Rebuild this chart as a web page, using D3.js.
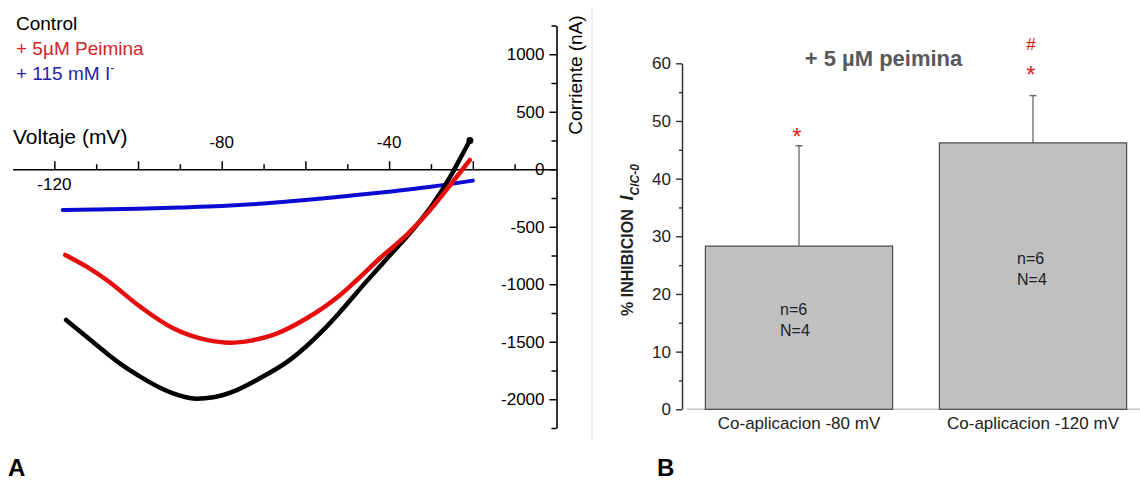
<!DOCTYPE html>
<html>
<head>
<meta charset="utf-8">
<script src="https://cdnjs.cloudflare.com/ajax/libs/d3/7.8.5/d3.min.js"></script>
<style>
  body { margin: 0; background: #fff; }
  text { font-family: "Liberation Sans", Arial, sans-serif; }
</style>
</head>
<body>
<div id="chart"></div>
<script>
//// data, panel A (I-V curves)
var controlV = [-117.2, -112.3, -107.5, -103.5, -99.5, -95, -90, -86, -82, -77, -71.6, -63.7, -55.7, -51.7, -45.4, -39.8, -34.2, -29.4, -25, -22.7, -20.7];
var controlI = [-1310, -1457, -1600, -1710, -1803, -1895, -1968, -1995, -1983, -1930, -1832, -1658, -1397, -1240, -975, -748, -520, -296, -40, 115, 250];

var peiminaV = [-117.4, -112.3, -107.5, -99.5, -91.6, -83.6, -78, -73, -67.7, -59.7, -51.7, -47.7, -42.2, -35.8, -30.2, -25.4, -20.7];
var peiminaI = [-745, -847, -963, -1195, -1383, -1484, -1508, -1490, -1441, -1296, -1093, -963, -774, -571, -354, -137, 81];

var iodideV = [-118, -110, -100, -90, -80, -70, -60, -50, -40, -30, -20];
var iodideI = [-354, -350, -343, -332, -319, -298, -268, -232, -195, -152, -99];

var voltLabels = [-120, -80, -40];
var legendNames = ["Control", "+ 5µM Peimina", "+ 115 mM I"];

//// data, panel B (bars)
var barLabels = ["Co-aplicacion -80 mV", "Co-aplicacion -120 mV"];
var barMeans = [28.3, 46.2];
var barErrors = [17.4, 8.2];
var barSmallN = ["n=6", "n=6"];
var barBigN = ["N=4", "N=4"];
var barHash = [false, true];

var svg = d3.select("#chart")
  .append("svg")
    .attr("width", 1140)
    .attr("height", 481);

svg.append("rect").attr("width", 1140).attr("height", 481).attr("fill", "#fff");

//// ---------- panel A ----------
var xV = d3.scaleLinear().domain([-130, 0]).range([12.5, 556.5]);
var yI = d3.scaleLinear().domain([-2250, 1250]).range([428, 25.5]);

// faint frame line on the right of panel A
svg.append("line")
  .attr("x1", 592).attr("x2", 592).attr("y1", 8).attr("y2", 440)
  .attr("stroke", "#ececec").attr("stroke-width", 1.5);

// x axis (voltage), ticks pointing up
var xAxisA = svg.append("g")
  .attr("transform", "translate(0," + yI(0) + ")")
  .call(d3.axisBottom(xV)
    .tickValues(d3.range(-120, 0, 10))
    .tickSize(-5)
    .tickSizeOuter(0)
    .tickFormat(""));
xAxisA.select(".domain").attr("stroke", "#000").attr("stroke-width", 1.6);
xAxisA.selectAll(".tick line")
  .attr("stroke", "#000").attr("stroke-width", 1.5)
  .attr("y2", function(d) { return d % 20 === 0 ? -8 : -5; });

svg.selectAll(".vlab")
  .data(voltLabels)
  .enter()
  .append("text")
    .attr("class", "vlab")
    .attr("x", function(d) { return xV(d); })
    .attr("y", function(d) { return d === -120 ? yI(0) + 21 : yI(0) - 21; })
    .attr("text-anchor", "middle")
    .attr("font-size", 17)
    .text(function(d) { return d; });

svg.append("text")
  .attr("x", 13).attr("y", 144)
  .attr("font-size", 21)
  .text("Voltaje (mV)");

// y axis (current) sits at 0 mV
var yAxisA = svg.append("g")
  .attr("transform", "translate(" + xV(0) + ",0)")
  .call(d3.axisLeft(yI)
    .tickValues(d3.range(-2250, 1251, 250))
    .tickSize(5)
    .tickSizeOuter(0)
    .tickPadding(5)
    .tickFormat(function(d) { return d % 500 === 0 ? d : ""; }));
yAxisA.select(".domain").attr("stroke", "#000").attr("stroke-width", 1.6);
yAxisA.selectAll(".tick line")
  .attr("stroke", "#000").attr("stroke-width", 1.5)
  .attr("x2", function(d) { return d % 500 === 0 ? -7 : -5; });
yAxisA.selectAll(".tick text")
  .attr("font-family", "Liberation Sans, Arial, sans-serif")
  .attr("font-size", 17)
  .attr("fill", "#000")
  .attr("x", -12);

svg.append("text")
  .attr("transform", "translate(575,75) rotate(-90)")
  .attr("text-anchor", "middle")
  .attr("dominant-baseline", "central")
  .attr("font-size", 19)
  .text("Corriente (nA)");

//// curves
var line = d3.line()
  .x(function(d) { return xV(d[0]); })
  .y(function(d) { return yI(d[1]); })
  .curve(d3.curveMonotoneX);

var curves = [
  { v: iodideV, i: iodideI, color: "#0a0ad2", w: 4 },
  { v: controlV, i: controlI, color: "#000000", w: 4.5 },
  { v: peiminaV, i: peiminaI, color: "#e60d0d", w: 4.5 }
];

curves.forEach(function(c) {
  svg.append("path")
    .datum(d3.zip(c.v, c.i))
    .attr("fill", "none")
    .attr("stroke", c.color)
    .attr("stroke-width", c.w)
    .attr("stroke-linecap", "round")
    .attr("stroke-linejoin", "round")
    .attr("d", line);
});

// end dot on the control trace
svg.append("circle")
  .attr("cx", xV(controlV[controlV.length - 1]))
  .attr("cy", yI(controlI[controlI.length - 1]))
  .attr("r", 3.5)
  .attr("fill", "#000");

//// legend
var legendColors = ["#000000", "#d42525", "#2424a8"];
legendNames.forEach(function(name, k) {
  var t = svg.append("text")
    .attr("x", 16)
    .attr("y", 30 + k * 25)
    .attr("font-size", 19)
    .attr("fill", legendColors[k])
    .text(name);
  if (k === 2) {
    t.append("tspan").attr("dy", -8).attr("font-size", 12).text("-");
  }
});

//// ---------- panel B ----------
var xB = d3.scaleBand()
  .domain(barLabels)
  .range([682, 1150])
  .paddingInner(0.2)
  .paddingOuter(0.1);
var yB = d3.scaleLinear().domain([0, 60]).range([409.3, 63.3]);

// light baseline
svg.append("line")
  .attr("x1", 687).attr("x2", 1140)
  .attr("y1", yB(0)).attr("y2", yB(0))
  .attr("stroke", "#c4c4c4").attr("stroke-width", 1.5);

// bars
svg.selectAll(".bar")
  .data(barMeans)
  .enter()
  .append("rect")
    .attr("class", "bar")
    .attr("x", function(d, k) { return xB(barLabels[k]); })
    .attr("y", function(d) { return yB(d); })
    .attr("width", xB.bandwidth())
    .attr("height", function(d) { return yB(0) - yB(d); })
    .attr("fill", "#c0c0c0")
    .attr("stroke", "#4a4a4a")
    .attr("stroke-width", 1.2);

// error bars (upper only)
barMeans.forEach(function(m, k) {
  var cx = xB(barLabels[k]) + xB.bandwidth() / 2;
  var top = yB(m + barErrors[k]);
  svg.append("line")
    .attr("x1", cx).attr("x2", cx)
    .attr("y1", yB(m)).attr("y2", top)
    .attr("stroke", "#6a6a6a").attr("stroke-width", 1.3);
  svg.append("line")
    .attr("x1", cx - 3.5).attr("x2", cx + 3.5)
    .attr("y1", top).attr("y2", top)
    .attr("stroke", "#6a6a6a").attr("stroke-width", 1.5);

  // significance marks
  var starY = barHash[k] ? top - 26 : top - 14;
  svg.append("text")
    .attr("x", cx - 2).attr("y", starY + 13.5)
    .attr("text-anchor", "middle")
    .attr("font-size", 24)
    .attr("fill", "#e02222")
    .text("*");
  if (barHash[k]) {
    svg.append("text")
      .attr("x", cx - 2).attr("y", top - 52 + 6)
      .attr("text-anchor", "middle")
      .attr("font-size", 17)
      .attr("fill", "#cc0000")
      .text("#");
  }

  // n / N inside bar
  var mid = (yB(m) + yB(0)) / 2;
  svg.append("text")
    .attr("x", cx - 19 + (k === 1 ? 3 : 0)).attr("y", mid - 12.5)
    .attr("font-size", 16).attr("fill", "#222")
    .text(barSmallN[k]);
  svg.append("text")
    .attr("x", cx - 19 + (k === 1 ? 3 : 0)).attr("y", mid + 8.5)
    .attr("font-size", 16).attr("fill", "#222")
    .text(barBigN[k]);
});

// category labels
svg.selectAll(".blab")
  .data(barLabels)
  .enter()
  .append("text")
    .attr("class", "blab")
    .attr("x", function(d) { return xB(d) + xB.bandwidth() / 2; })
    .attr("y", 429)
    .attr("text-anchor", "middle")
    .attr("font-size", 17)
    .attr("fill", "#222")
    .text(function(d) { return d; });

// y axis B
var yAxisB = svg.append("g")
  .attr("transform", "translate(682,0)")
  .call(d3.axisLeft(yB)
    .tickValues(d3.range(0, 61, 5))
    .tickSize(6)
    .tickSizeOuter(0)
    .tickPadding(5)
    .tickFormat(function(d) { return d % 10 === 0 ? d : ""; }));
yAxisB.select(".domain").attr("stroke", "#333").attr("stroke-width", 1.5);
yAxisB.selectAll(".tick line")
  .attr("stroke", "#333").attr("stroke-width", 1.4)
  .attr("x2", function(d) { return d % 10 === 0 ? -6 : -3; });
yAxisB.selectAll(".tick text")
  .attr("font-family", "Liberation Sans, Arial, sans-serif")
  .attr("font-size", 17)
  .attr("fill", "#222")
  .attr("x", -11);

// y label B with subscript
var yLab = svg.append("text")
  .attr("transform", "translate(633,240) rotate(-90)")
  .attr("text-anchor", "middle")
  .attr("font-weight", "bold")
  .attr("fill", "#222");
yLab.append("tspan").attr("font-size", 16).text("% INHIBICION\u00a0\u00a0");
yLab.append("tspan").attr("font-size", 18).attr("font-style", "italic").text("I");
yLab.append("tspan").attr("font-size", 12).attr("font-style", "italic").attr("dy", 6).text("ClC-0");

// title B
svg.append("text")
  .attr("x", 883.5).attr("y", 66)
  .attr("text-anchor", "middle")
  .attr("font-size", 22)
  .attr("font-weight", "bold")
  .attr("fill", "#595959")
  .text("+ 5 µM peimina");

//// panel letters
svg.append("text").attr("x", 8).attr("y", 476)
  .attr("font-size", 24).attr("font-weight", "bold").text("A");
svg.append("text").attr("x", 657).attr("y", 476)
  .attr("font-size", 24).attr("font-weight", "bold").text("B");
</script>
</body>
</html>
